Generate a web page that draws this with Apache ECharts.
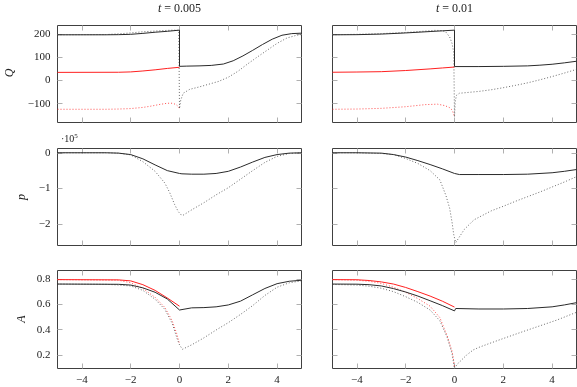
<!DOCTYPE html>
<html><head><meta charset="utf-8">
<script src="https://cdn.jsdelivr.net/npm/echarts@6/dist/echarts.min.js"></script>
<style>html,body{margin:0;padding:0;background:#fff}#c{width:577px;height:387px}</style>
</head><body><div id="c"></div>
<script>
// ---- tick labels ----
const X_TICKS = [-4, -2, 0, 2, 4];
const Q_TICKS = [-100, 0, 100, 200];
const P_TICKS = [-2, -1, 0];          // p in units of 10^5
const A_TICKS = [0.2, 0.4, 0.6, 0.8];
const COL_TITLES = ['0.005', '0.01'];
const ROW_NAMES = ['Q', 'p', 'A'];

// ---- Q, t = 0.005 ----
const qL_bs_x = [-5, -3, -2.5, -2, -1.5, -1, -0.5, -0.1, 0, 0, 0.3, 0.8, 1.3, 1.8, 2.2, 2.6, 3.0, 3.4, 3.8, 4.2, 4.6, 5];
const qL_bs_y = [197, 197, 197.5, 199, 203, 208, 212, 216, 217, 61, 62, 63, 65, 71, 85, 106, 130, 155, 178, 195, 202, 204];
const qL_bd_x = [-5, -3, -2.5, -2, -1.5, -1, -0.5, -0.2, -0.03, 0, 0.05, 0.15, 0.42, 0.8, 1.2, 1.6, 2.0, 2.4, 2.8, 3.2, 3.6, 4.0, 4.4, 4.8, 5];
const qL_bd_y = [197, 198, 201, 205, 210, 213, 216, 217, 216, -121, -85, -55, -38, -28, -16, -4, 14, 40, 72, 102, 131, 160, 183, 195, 198];
const qL_rs_x = [-5, -2.5, -2, -1.5, -1, -0.5, 0];
const qL_rs_y = [35, 35.5, 37, 41, 46, 52, 57];
const qL_rd_x = [-5, -3, -2.5, -2, -1.5, -1.2, -0.8, -0.5, -0.3, -0.15, -0.05, 0];
const qL_rd_y = [-124, -124, -123, -121, -116, -111, -103, -98, -98, -103, -112, -121];

// ---- Q, t = 0.01 ----
const qR_bs_x = [-5, -4, -3, -2, -1, -0.5, 0, 0, 1, 2, 3, 3.5, 4, 4.5, 5];
const qR_bs_y = [197, 197.5, 200, 205, 211, 214, 217, 60, 60, 61, 63, 66, 70, 76, 83];
const qR_bd_x = [-5, -4, -3, -2, -1.3, -0.8, -0.5, -0.35, -0.2, -0.1, -0.03, 0, 0.03, 0.08, 0.2, 0.5, 1, 1.5, 2, 2.5, 3, 3.5, 4, 4.5, 5];
const qR_bd_y = [197, 199, 202, 207, 212, 216, 215, 208, 188, 160, 120, -157, -90, -64, -55, -52, -47, -40, -31, -21, -10, 3, 17, 32, 48];
const qR_rs_x = [-5, -4, -3, -2, -1, -0.5, 0];
const qR_rs_y = [35.5, 36.5, 38, 43, 50, 54, 58];
const qR_rd_x = [-5, -4, -3, -2, -1.2, -0.7, -0.4, -0.2, -0.1, -0.05, 0];
const qR_rd_y = [-124, -123, -120, -113, -104, -102, -108, -117, -127, -140, -157];

// ---- p (x10^5), t = 0.005 ----
const pL_bs_x = [-5, -3, -2.5, -2, -1.5, -1, -0.5, 0, 0.1, 0.5, 1, 1.5, 2, 2.5, 3, 3.5, 4, 4.5, 5];
const pL_bs_y = [0, 0, -0.01, -0.05, -0.17, -0.34, -0.5, -0.58, -0.59, -0.6, -0.6, -0.58, -0.52, -0.4, -0.26, -0.13, -0.05, -0.01, 0];
const pL_bd_x = [-5, -3, -2.5, -2, -1.5, -1, -0.6, -0.4, -0.2, -0.05, 0.05, 0.15, 0.5, 1, 1.5, 2, 2.5, 3, 3.5, 4, 4.5, 5];
const pL_bd_y = [0, 0, -0.01, -0.06, -0.25, -0.52, -0.85, -1.12, -1.45, -1.65, -1.73, -1.75, -1.6, -1.4, -1.18, -0.98, -0.74, -0.5, -0.27, -0.1, -0.02, 0];

// ---- p (x10^5), t = 0.01 ----
const pR_bs_x = [-5, -4, -3, -2.5, -2, -1.5, -1, -0.5, 0, 0.2, 1, 2, 3, 4, 4.5, 5];
const pR_bs_y = [0, 0, -0.01, -0.05, -0.12, -0.22, -0.33, -0.45, -0.58, -0.61, -0.61, -0.61, -0.6, -0.56, -0.52, -0.47];
const pR_bd_x = [-5, -4, -3, -2.5, -2, -1.5, -1, -0.6, -0.35, -0.2, -0.1, -0.03, 0.05, 0.1, 0.2, 0.4, 0.8, 1.5, 2, 2.5, 3, 3.5, 4, 4.5, 5];
const pR_bd_y = [0, 0, -0.02, -0.05, -0.16, -0.3, -0.5, -0.76, -1.2, -1.55, -1.95, -2.3, -2.52, -2.5, -2.36, -2.15, -1.88, -1.63, -1.5, -1.36, -1.23, -1.1, -0.96, -0.82, -0.67];

// ---- A, t = 0.005 ----
const aL_rs_x = [-5, -2.5, -2, -1.5, -1, -0.5, 0];
const aL_rs_y = [0.795, 0.793, 0.785, 0.755, 0.71, 0.65, 0.585];
const aL_bs_x = [-5, -2.5, -2, -1.5, -1, -0.5, 0, 0.05, 0.5, 1, 1.5, 2, 2.5, 3, 3.5, 4, 4.5, 5];
const aL_bs_y = [0.76, 0.758, 0.752, 0.73, 0.695, 0.642, 0.555, 0.57, 0.572, 0.574, 0.58, 0.595, 0.625, 0.675, 0.725, 0.763, 0.782, 0.79];
const aL_bd_x = [-5, -3, -2.5, -2, -1.5, -1, -0.6, -0.3, -0.1, 0, 0.12, 0.5, 1, 1.5, 2, 2.5, 3, 3.5, 4, 4.5, 5];
const aL_bd_y = [0.76, 0.758, 0.752, 0.745, 0.71, 0.64, 0.56, 0.45, 0.33, 0.28, 0.245, 0.28, 0.335, 0.397, 0.455, 0.52, 0.59, 0.67, 0.735, 0.77, 0.785];
const aL_rd_x = [-5, -2.5, -2, -1.5, -1, -0.6, -0.3, -0.1, 0];
const aL_rd_y = [0.795, 0.79, 0.77, 0.725, 0.655, 0.575, 0.47, 0.36, 0.285];

// ---- A, t = 0.01 ----
const aR_rs_x = [-5, -4, -3.5, -3, -2.5, -2, -1.5, -1, -0.5, 0];
const aR_rs_y = [0.795, 0.794, 0.788, 0.777, 0.76, 0.733, 0.7, 0.665, 0.625, 0.578];
const aR_bs_x = [-5, -4, -3.5, -3, -2.5, -2, -1.5, -1, -0.5, 0, 0.05, 1, 2, 3, 4, 4.5, 5];
const aR_bs_y = [0.76, 0.759, 0.755, 0.745, 0.724, 0.697, 0.665, 0.628, 0.59, 0.548, 0.567, 0.563, 0.563, 0.567, 0.58, 0.595, 0.613];
const aR_bd_x = [-5, -4, -3.5, -3, -2.5, -2, -1.5, -1, -0.6, -0.3, -0.1, -0.02, 0, 0.02, 0.1, 0.22, 0.5, 0.77, 1, 1.45, 2, 2.8, 3.5, 4.2, 5];
const aR_bd_y = [0.757, 0.752, 0.743, 0.727, 0.7, 0.66, 0.615, 0.555, 0.47, 0.34, 0.21, 0.12, 0.09, 0.1, 0.125, 0.147, 0.2, 0.24, 0.26, 0.292, 0.33, 0.384, 0.43, 0.476, 0.537];
const aR_rd_x = [-5, -4, -3.5, -3, -2.5, -2, -1.5, -1, -0.6, -0.3, -0.1, -0.03, 0];
const aR_rd_y = [0.795, 0.79, 0.782, 0.765, 0.735, 0.695, 0.645, 0.585, 0.495, 0.35, 0.23, 0.15, 0.1];

// ---- layout ----
const COL_LEFT = [57.5, 332.5];
const COL_W = 244;
const ROW_TOP = [25.5, 148.5, 270.5];
const ROW_H = [97, 97, 98];
const Y_RANGE = [[-181, 237], [-2.6, 0.12], [0.093, 0.867]];
const Y_TICKS = [Q_TICKS, P_TICKS, A_TICKS];

const FONT = 'Liberation Serif';
const minus = v => String(v).replace('-', '\u2212');
const yFmt = [minus, minus, v => v.toFixed(1)];

const pair = (xs, ys) => xs.map((x, i) => [x, ys[i]]);

const BLACK = '#2a2a2a', GREY = '#444', RED = '#ff2020';
const solid = c => ({ color: c, width: 1, type: 'solid' });
const dotted = c => ({ color: c, width: 0.8, type: [1, 2] });

const panels = [
  [0, 0, [[qL_rd_x, qL_rd_y, dotted(RED)], [qL_bd_x, qL_bd_y, dotted(GREY)], [qL_rs_x, qL_rs_y, solid(RED)], [qL_bs_x, qL_bs_y, solid(BLACK)]]],
  [0, 1, [[qR_rd_x, qR_rd_y, dotted(RED)], [qR_bd_x, qR_bd_y, dotted(GREY)], [qR_rs_x, qR_rs_y, solid(RED)], [qR_bs_x, qR_bs_y, solid(BLACK)]]],
  [1, 0, [[pL_bd_x, pL_bd_y, dotted(GREY)], [pL_bs_x, pL_bs_y, solid(BLACK)]]],
  [1, 1, [[pR_bd_x, pR_bd_y, dotted(GREY)], [pR_bs_x, pR_bs_y, solid(BLACK)]]],
  [2, 0, [[aL_rd_x, aL_rd_y, dotted(RED)], [aL_bd_x, aL_bd_y, dotted(GREY)], [aL_rs_x, aL_rs_y, solid(RED)], [aL_bs_x, aL_bs_y, solid(BLACK)]]],
  [2, 1, [[aR_rd_x, aR_rd_y, dotted(RED)], [aR_bd_x, aR_bd_y, dotted(GREY)], [aR_rs_x, aR_rs_y, solid(RED)], [aR_bs_x, aR_bs_y, solid(BLACK)]]]
];

const grid = [], xAxis = [], yAxis = [], series = [];
const tick = vals => ({ show: true, inside: true, length: 5, customValues: vals, lineStyle: { color: '#b0b0b0', width: 1 } });
const noLine = { show: false, onZero: false };
const labelStyle = { fontFamily: FONT, fontSize: 11, color: '#222' };

panels.forEach(([r, c, list], gi) => {
  grid.push({ left: COL_LEFT[c], top: ROW_TOP[r], width: COL_W, height: ROW_H[r],
    show: true, borderColor: '#404040', borderWidth: 1, backgroundColor: 'transparent', containLabel: false });
  const xb = xAxis.length;
  xAxis.push({ type: 'value', gridIndex: gi, min: -5, max: 5, position: 'bottom',
    axisLine: noLine, splitLine: { show: false }, axisTick: tick(X_TICKS),
    axisLabel: Object.assign({ show: r === 2, customValues: X_TICKS, margin: 6, formatter: minus }, labelStyle) });
  xAxis.push({ type: 'value', gridIndex: gi, min: -5, max: 5, position: 'top',
    axisLine: noLine, splitLine: { show: false }, axisTick: tick(X_TICKS), axisLabel: { show: false } });
  const yb = yAxis.length;
  yAxis.push({ type: 'value', gridIndex: gi, min: Y_RANGE[r][0], max: Y_RANGE[r][1], position: 'left',
    axisLine: noLine, splitLine: { show: false }, axisTick: tick(Y_TICKS[r]),
    axisLabel: Object.assign({ show: c === 0, customValues: Y_TICKS[r], margin: 7, formatter: yFmt[r] }, labelStyle) });
  yAxis.push({ type: 'value', gridIndex: gi, min: Y_RANGE[r][0], max: Y_RANGE[r][1], position: 'right',
    axisLine: noLine, splitLine: { show: false }, axisTick: tick(Y_TICKS[r]), axisLabel: { show: false } });
  list.forEach(([xs, ys, ls]) => {
    series.push({ type: 'line', xAxisIndex: xb, yAxisIndex: yb, data: pair(xs, ys),
      showSymbol: false, symbol: 'none', smooth: false, lineStyle: ls, clip: true, silent: true, animation: false });
  });
});

const graphic = [];
COL_TITLES.forEach((t, c) => {
  graphic.push({ type: 'text', x: COL_LEFT[c] + COL_W / 2, y: 9,
    style: { text: '{i|t} = ' + t, textAlign: 'center', textVerticalAlign: 'middle',
      fontFamily: FONT, fontSize: 12, fill: '#222',
      rich: { i: { fontStyle: 'italic', fontFamily: FONT, fontSize: 12, fill: '#222' } } } });
});
const NAME_POS = [[10, 73], [22, 197], [22, 319]];
ROW_NAMES.forEach((n, r) => {
  graphic.push({ type: 'text', x: NAME_POS[r][0], y: NAME_POS[r][1], rotation: Math.PI / 2,
    style: { text: n, textAlign: 'center', textVerticalAlign: 'middle', fontFamily: FONT,
      fontStyle: 'italic', fontSize: 12, fill: '#222' } });
});
graphic.push({ type: 'text', x: 61, y: 145,
  style: { text: '·10{s|5}', textAlign: 'left', textVerticalAlign: 'bottom', fontFamily: FONT, fontSize: 10, fill: '#222',
    rich: { s: { fontFamily: FONT, fontSize: 7, fill: '#222', verticalAlign: 'top', padding: [0, 0, 5, 0] } } } });

const chart = echarts.init(document.getElementById('c'), null, { renderer: 'canvas' });
chart.setOption({ animation: false, backgroundColor: '#fff', grid, xAxis, yAxis, series, graphic });
</script></body></html>
